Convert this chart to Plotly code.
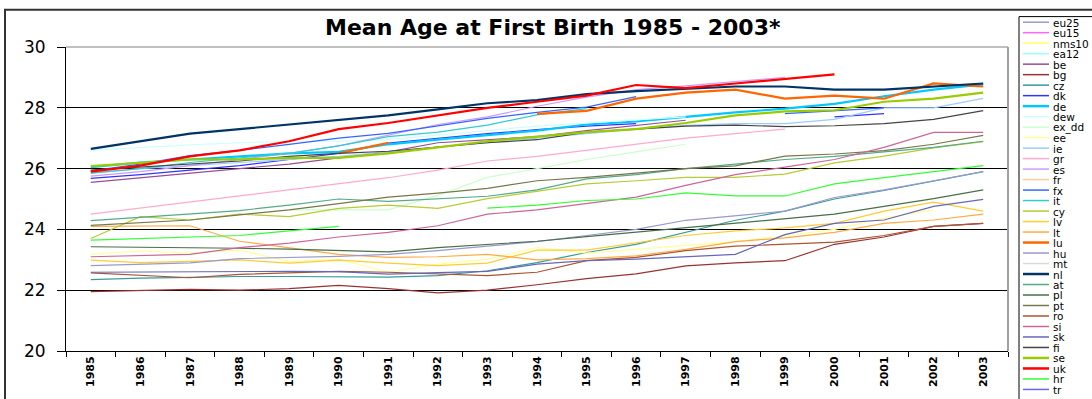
import plotly.graph_objects as go

# Years on the category axis
years = ["1985", "1986", "1987", "1988", "1989", "1990", "1991", "1992", "1993", "1994",
         "1995", "1996", "1997", "1998", "1999", "2000", "2001", "2002", "2003"]

N = None
# Mean age of mothers at first birth, by country / aggregate
eu25 = [N] * 19
eu15 = [N] * 19
nms10 = [N] * 19
ea12 = [N] * 19
be = [25.55, 25.7, 25.85, 26.0, 26.15, 26.35, 26.55, 26.85, 26.95, 27.05, 27.25, 27.43, 27.59, N, N, N, N, N, N]
bg = [21.95, 22.0, 22.03, 22.0, 22.05, 22.16, 22.05, 21.91, 22.0, 22.18, 22.38, 22.54, 22.8, 22.9, 22.97, 23.51, 23.75, 24.1, 24.2]
cz = [22.35, 22.4, 22.42, 22.45, 22.45, 22.45, 22.43, 22.48, 22.64, 22.91, 23.24, 23.51, 23.9, 24.3, 24.6, 25.0, 25.28, 25.58, 25.9]
dk = [25.68, 25.8, 25.95, 26.1, 26.3, 26.5, 26.84, 27.0, 27.15, 27.28, 27.4, 27.48, N, N, N, 27.7, 27.81, N, N]
de = [26.05, 26.2, 26.3, 26.4, 26.5, 26.55, 26.8, 26.95, 27.1, 27.25, 27.45, 27.55, 27.7, 27.85, 27.97, 28.13, 28.38, 28.6, 28.77]
dew = [26.6, 26.7, 26.78, 26.85, 26.9, 26.9, 26.95, 27.1, 27.25, 27.4, 27.5, 27.6, 27.7, N, N, N, N, N, N]
ex_dd = [N, N, N, N, 24.64, 24.64, 24.64, 25.12, 25.71, 26.0, 26.3, 26.55, 26.8, N, N, N, N, N, N]
ee = [23.18, 23.29, 23.22, 23.32, 22.94, 23.02, 22.59, 22.86, 23.02, 23.4, 23.22, 23.35, 23.48, 23.6, 23.8, 24.0, 24.37, 24.64, N]
ie = [25.85, 26.0, 26.1, 26.2, 26.3, 26.4, 26.55, 26.7, 26.85, 27.0, 27.15, 27.3, 27.42, 27.48, 27.48, 27.62, 28.0, 28.0, 28.31]
gr = [24.5, 24.7, 24.9, 25.1, 25.3, 25.5, 25.7, 25.95, 26.25, 26.4, 26.6, 26.8, 27.0, 27.15, 27.3, N, N, N, N]
es = [25.75, 25.9, 26.1, 26.3, 26.5, 26.75, 27.1, 27.45, 27.7, 28.05, 28.35, 28.6, 28.72, 28.85, 29.0, N, N, N, N]
fr = [N] * 19
fx = [25.93, 26.15, 26.43, 26.6, 26.8, 27.0, 27.16, 27.4, 27.65, 27.85, 28.02, 28.37, N, N, 27.81, 27.9, 28.0, N, N]
it = [25.85, 26.0, 26.2, 26.35, 26.5, 26.75, 27.05, 27.2, 27.43, 27.77, 27.97, N, N, N, N, N, N, N, N]
cy = [23.7, 24.42, 24.31, 24.5, 24.42, 24.69, 24.8, 24.69, 25.01, 25.25, 25.5, 25.6, 25.71, 25.71, 25.82, 26.19, 26.41, 26.68, 26.89]
lv = [22.99, 22.91, 22.95, 23.0, 22.89, 22.99, 22.89, 22.81, 22.89, 23.32, 23.32, 23.55, 23.8, 23.95, 24.05, 24.2, 24.6, 24.9, 24.6]
lt = [24.1, 24.11, 24.12, 23.61, 23.4, 23.18, 23.08, 23.1, 23.18, 23.0, 23.04, 23.13, 23.34, 23.6, 23.72, 23.9, 24.2, 24.31, 24.5]
lu = [N, N, N, N, N, 26.5, 26.85, N, N, 27.8, 27.9, 28.3, 28.5, 28.6, 28.3, 28.4, 28.3, 28.8, 28.7]
hu = [22.81, 22.85, 22.9, 23.04, 23.08, 23.11, 23.18, 23.3, 23.45, 23.6, 23.8, 24.0, 24.3, 24.45, 24.6, 25.05, 25.3, 25.6, 25.9]
mt = [N] * 19
nl = [26.65, 26.9, 27.15, 27.3, 27.45, 27.6, 27.75, 27.95, 28.15, 28.25, 28.45, 28.55, 28.62, 28.7, 28.7, 28.6, 28.6, 28.7, 28.8]
at = [24.29, 24.4, 24.5, 24.62, 24.8, 25.0, 24.92, 25.0, 25.09, 25.3, 25.66, 25.8, 26.0, 26.15, 26.3, 26.4, 26.55, 26.7, 26.9]
pl = [23.43, 23.42, 23.4, 23.38, 23.35, 23.3, 23.26, 23.4, 23.5, 23.61, 23.76, 23.91, 24.05, 24.2, 24.35, 24.5, 24.76, 25.01, 25.3]
pt = [24.13, 24.22, 24.31, 24.48, 24.64, 24.85, 25.06, 25.19, 25.35, 25.6, 25.71, 25.85, 26.0, 26.09, 26.41, 26.48, 26.59, 26.8, 27.09]
ro = [22.57, 22.5, 22.41, 22.52, 22.58, 22.62, 22.59, 22.53, 22.48, 22.59, 22.97, 23.08, 23.3, 23.45, 23.51, 23.58, 23.8, 24.1, 24.2]
si = [23.1, 23.14, 23.18, 23.4, 23.55, 23.75, 23.9, 24.12, 24.5, 24.64, 24.85, 25.06, 25.45, 25.8, 26.05, 26.3, 26.7, 27.19, 27.19]
sk = [22.59, 22.6, 22.6, 22.62, 22.62, 22.61, 22.53, 22.58, 22.62, 22.86, 22.97, 23.02, 23.1, 23.18, 23.83, 24.2, 24.31, 24.76, 24.99]
fi = [25.95, 26.05, 26.15, 26.25, 26.4, 26.5, 26.57, 26.7, 26.85, 26.95, 27.2, 27.3, 27.4, 27.43, 27.38, 27.41, 27.48, 27.62, 27.91]
se = [26.08, 26.2, 26.3, 26.3, 26.35, 26.35, 26.5, 26.7, 26.9, 27.05, 27.2, 27.3, 27.5, 27.75, 27.88, 27.92, 28.2, 28.3, 28.5]
uk = [25.9, 26.1, 26.4, 26.6, 26.9, 27.3, 27.5, 27.75, 28.0, 28.2, 28.4, 28.75, 28.65, 28.8, 28.95, 29.1, N, N, N]
hr = [23.65, 23.7, 23.75, 23.8, 23.95, 24.1, N, N, 24.7, 24.8, 24.95, 25.0, 25.2, 25.1, 25.1, 25.5, 25.7, 25.9, 26.1]
tr = [N] * 19

series_names = ["eu25", "eu15", "nms10", "ea12", "be", "bg", "cz", "dk", "de", "dew", "ex_dd", "ee",
                "ie", "gr", "es", "fr", "fx", "it", "cy", "lv", "lt", "lu", "hu", "mt", "nl", "at",
                "pl", "pt", "ro", "si", "sk", "fi", "se", "uk", "hr", "tr"]
series_values = [eu25, eu15, nms10, ea12, be, bg, cz, dk, de, dew, ex_dd, ee,
                 ie, gr, es, fr, fx, it, cy, lv, lt, lu, hu, mt, nl, at,
                 pl, pt, ro, si, sk, fi, se, uk, hr, tr]
series_colors = ["#9999CC", "#FF66FF", "#FFFF66", "#99FFFF", "#994C99", "#993333", "#3A9A9A", "#3333FF",
                 "#00C8FF", "#CCFFFF", "#CCFFCC", "#FFFF99", "#99CCFF", "#FFAACC", "#CC99FF", "#FFCC99",
                 "#3366FF", "#33CCCC", "#B5CC33", "#FFCC33", "#FFAA44", "#FF6600", "#9999CC", "#D9D9D9",
                 "#003366", "#55AA88", "#4A6E4A", "#77774A", "#AA5533", "#CC6699", "#6666BB", "#444444",
                 "#99CC00", "#FF0000", "#33FF33", "#6666FF"]
thick_series = {"de", "lu", "nl", "se", "uk"}

WIDE = "DejaVu Sans, Verdana, sans-serif"
W, H = 1092, 399
PL, PR, PT, PB = 66, 1008, 47, 357  # plot area edges in pixels


def px(x):
    return (x - PL) / (PR - PL)


def py(y):
    return (PB - y) / (PB - PT)


fig = go.Figure()
for name, vals, col in zip(series_names, series_values, series_colors):
    fig.add_trace(go.Scatter(
        x=years, y=vals, mode="lines", name=name, showlegend=False,
        connectgaps=False,
        line=dict(color=col, width=2.2 if name in thick_series else 1.2),
    ))

shapes = []
annotations = []

# outer chart frame
shapes.append(dict(type="rect", xref="paper", yref="paper",
                   x0=px(5), x1=px(1200), y0=py(9), y1=py(500),
                   line=dict(color="#333333", width=2), fillcolor="rgba(0,0,0,0)", layer="below"))
# plot area frame (top and right)
shapes.append(dict(type="line", xref="paper", yref="paper", x0=0, x1=1, y0=1, y1=1,
                   line=dict(color="#808080", width=1)))
shapes.append(dict(type="line", xref="paper", yref="paper", x0=1, x1=1, y0=0, y1=1,
                   line=dict(color="#A0A0A0", width=2)))

# legend box with one entry per series
shapes.append(dict(type="rect", xref="paper", yref="paper",
                   x0=px(1019), x1=px(1200), y0=py(16), y1=py(500),
                   line=dict(color="#000000", width=1), fillcolor="#FFFFFF"))
for i, (name, col) in enumerate(zip(series_names, series_colors)):
    yy = 21.7 + i * 10.7
    shapes.append(dict(type="line", xref="paper", yref="paper",
                       x0=px(1023), x1=px(1049), y0=py(yy), y1=py(yy),
                       line=dict(color=col, width=2.5 if name in thick_series else 1.5)))
    annotations.append(dict(xref="paper", yref="paper", x=px(1051), y=py(yy + 0.5),
                            xanchor="left", yanchor="middle", showarrow=False,
                            text=name, font=dict(family=WIDE, size=10.5, color="#000000")))

# chart title
annotations.append(dict(xref="paper", yref="paper", x=px(553), y=py(27),
                        xanchor="center", yanchor="middle", showarrow=False,
                        text="<b>Mean Age at First Birth 1985 - 2003*</b>",
                        font=dict(family=WIDE, size=22, color="#000000")))

fig.update_layout(
    width=W, height=H, autosize=False,
    margin=dict(l=PL, r=W - PR, t=PT, b=H - PB, pad=0),
    paper_bgcolor="#FFFFFF", plot_bgcolor="#FFFFFF",
    showlegend=False,
    shapes=shapes, annotations=annotations,
    xaxis=dict(type="category", categoryorder="array", categoryarray=years,
               range=[-0.5, 18.5], showgrid=False, zeroline=False,
               showline=True, linecolor="#000000", linewidth=1,
               ticks="outside", tickson="boundaries", ticklen=5, tickcolor="#000000",
               tickangle=-90, tickfont=dict(family=WIDE, size=11, color="#000000"),
               tickprefix="<b>", ticksuffix="</b>"),
    yaxis=dict(range=[20, 30], dtick=2, tick0=20, showgrid=True, gridcolor="#000000",
               gridwidth=1, zeroline=False, showline=True, linecolor="#000000", linewidth=1,
               ticks="outside", ticklen=8, tickcolor="#000000", ticklabelstandoff=8,
               tickfont=dict(family=WIDE, size=17, color="#000000")),
)

fig.write_html("out.html")
